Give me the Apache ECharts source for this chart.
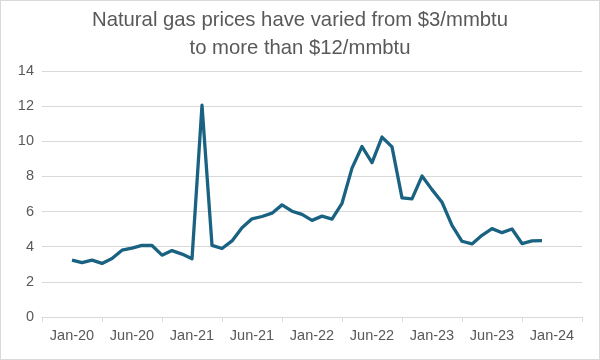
<!DOCTYPE html>
<html>
<head>
<meta charset="utf-8">
<script src="https://cdn.jsdelivr.net/npm/echarts@6/dist/echarts.min.js"></script>
<style>
html,body{margin:0;padding:0;background:#fff;}
#c{width:600px;height:360px;box-sizing:border-box;border:1px solid #d9d9d9;}
</style>
</head>
<body>
<div id="c"></div>
<script>
// Monthly prices, Jan-20 .. Dec-23 ($/mmbtu)
const months = ['Jan-20','Feb-20','Mar-20','Apr-20','May-20','Jun-20','Jul-20','Aug-20','Sep-20','Oct-20','Nov-20','Dec-20',
  'Jan-21','Feb-21','Mar-21','Apr-21','May-21','Jun-21','Jul-21','Aug-21','Sep-21','Oct-21','Nov-21','Dec-21',
  'Jan-22','Feb-22','Mar-22','Apr-22','May-22','Jun-22','Jul-22','Aug-22','Sep-22','Oct-22','Nov-22','Dec-22',
  'Jan-23','Feb-23','Mar-23','Apr-23','May-23','Jun-23','Jul-23','Aug-23','Sep-23','Oct-23','Nov-23','Dec-23'];
const prices = [3.24,3.09,3.24,3.05,3.33,3.80,3.92,4.08,4.07,3.52,3.78,3.58,
  3.31,12.05,4.08,3.90,4.33,5.08,5.59,5.72,5.91,6.38,6.02,5.84,
  5.50,5.74,5.57,6.47,8.47,9.70,8.79,10.24,9.68,6.78,6.72,8.02,
  7.25,6.53,5.21,4.31,4.16,4.65,5.03,4.80,5.01,4.18,4.33,4.35];
const tickLabels = ['Jan-20','Jun-20','Jan-21','Jun-21','Jan-22','Jun-22','Jan-23','Jun-23','Jan-24'];
const yTicks = [0,2,4,6,8,10,12,14];

const AXIS_OFFSET = 3;   // months between axis start and Jan-20
const SPAN = 54;         // months shown on the axis
const tickPos = [];
for (let k = 0; k <= tickLabels.length; k++) tickPos.push(k * 6);
const labelPos = tickLabels.map((_, k) => k * 6 + 3);

const chart = echarts.init(document.getElementById('c'), null, {renderer: 'canvas'});
chart.setOption({
  animation: false,
  backgroundColor: '#ffffff',
  title: {
    text: 'Natural gas prices have varied from $3/mmbtu\nto more than $12/mmbtu',
    left: 'center',
    top: 0,
    textStyle: {fontFamily: 'Liberation Sans, Arial, sans-serif', fontSize: 20.3, fontWeight: 'normal', color: '#595959', lineHeight: 28}
  },
  grid: {left: 41, right: 17, top: 70, bottom: 42, containLabel: false},
  xAxis: {
    type: 'value',
    min: 0, max: SPAN,
    splitLine: {show: false},
    axisLine: {show: true, onZero: false, lineStyle: {color: '#d9d9d9', width: 1}},
    axisTick: {show: true, length: 5, lineStyle: {color: '#d9d9d9'}, customValues: tickPos},
    axisLabel: {
      customValues: labelPos,
      formatter: v => tickLabels[Math.round((v - 3) / 6)] || '',
      fontFamily: 'Liberation Sans, Arial, sans-serif', fontSize: 14.5, color: '#595959', margin: 11
    }
  },
  yAxis: {
    type: 'value',
    min: 0, max: 14, interval: 2,
    axisLine: {show: false},
    axisTick: {show: false},
    splitLine: {lineStyle: {color: '#d9d9d9', width: 1}},
    axisLabel: {fontFamily: 'Liberation Sans, Arial, sans-serif', fontSize: 14.5, color: '#595959', margin: 8,
      formatter: v => yTicks.includes(v) ? String(v) : ''}
  },
  series: [{
    type: 'line',
    data: prices.map((p, i) => [i + AXIS_OFFSET, p]),
    showSymbol: false,
    symbol: 'none',
    lineStyle: {color: '#1a6282', width: 3.3, join: 'round'},
    itemStyle: {color: '#1a6282'}
  }]
});
</script>
</body>
</html>
